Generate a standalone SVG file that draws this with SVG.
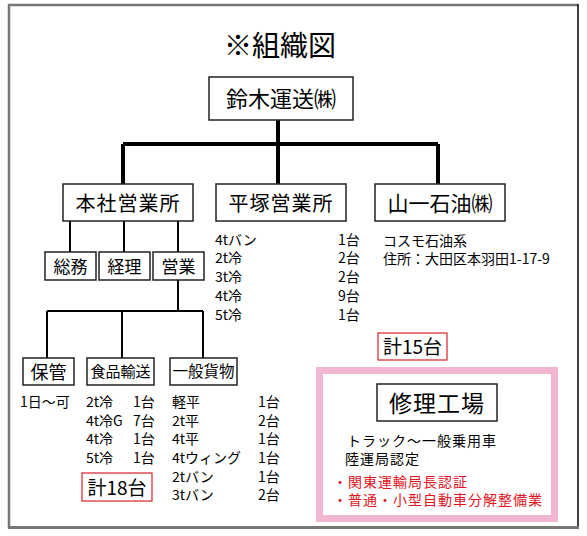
<svg xmlns="http://www.w3.org/2000/svg" width="587" height="536" viewBox="0 0 587 536">
<style>
text{font-family:"Noto Sans CJK JP","Noto Sans CJK SC",sans-serif;fill:#000}
.box{fill:#fff;stroke:#222;stroke-width:1.5}
.c{text-anchor:middle}
.s{font-size:14px}
.red{fill:#e3141e}
.tot{fill:#fff;stroke:#d9202a;stroke-width:1.2}
.thick{stroke:#000;stroke-width:4;fill:none}
.thin{stroke:#000;stroke-width:2;fill:none}
</style>
<rect x="0" y="0" width="587" height="536" fill="#fff"/>
<path d="M9 528 V5 H578" fill="none" stroke="#777" stroke-width="2.5"/>
<path d="M578 4 V527" fill="none" stroke="#000" stroke-width="1.5"/>
<path d="M8 527.5 H579" fill="none" stroke="#777" stroke-width="3"/>
<text x="280" y="56" class="c" font-size="28">※組織図</text>
<g id="connectors">
<path class="thick" d="M278 120 V144 M123 144 H438 M123 144 V184 M278 144 V184 M438 144 V184"/>
<path class="thin" d="M70 221 V252 M124 221 V252 M178 221 V252 M178 280 V311 M47 311 H203 M47 311 V358 M122 311 V358 M203 311 V358"/>
</g>
<g id="root"><rect class="box" x="209" y="77" width="144" height="43"/><text x="281" y="107" class="c" font-size="22">鈴木運送㈱</text></g>
<g id="honsha"><rect class="box" x="63" y="184" width="130" height="37"/><text x="128" y="211" class="c" font-size="20" letter-spacing="1">本社営業所</text></g>
<g id="hiratsuka"><rect class="box" x="216" y="184" width="130" height="37"/><text x="281" y="211" class="c" font-size="20" letter-spacing="1">平塚営業所</text></g>
<g id="yamaichi"><rect class="box" x="375" y="184" width="130" height="37"/><text x="440" y="211" class="c" font-size="21">山一石油㈱</text></g>
<g id="somu"><rect class="box" x="45" y="252" width="51" height="28"/><text x="70.5" y="273" class="c" font-size="17">総務</text></g>
<g id="keiri"><rect class="box" x="99" y="252" width="51" height="28"/><text x="124.5" y="273" class="c" font-size="17">経理</text></g>
<g id="eigyo"><rect class="box" x="153" y="252" width="51" height="28"/><text x="178.5" y="273" class="c" font-size="17">営業</text></g>
<g id="hokan"><rect class="box" x="23" y="358" width="51" height="27"/><text x="48.5" y="379" class="c" font-size="18">保管</text></g>
<g id="shokuhin"><rect class="box" x="87" y="358" width="67" height="27"/><text x="120.5" y="377" class="c" font-size="15">食品輸送</text></g>
<g id="ippan"><rect class="box" x="170" y="358" width="67" height="27"/><text x="203.5" y="377" class="c" font-size="15.5">一般貨物</text></g>
<g id="hiratsuka-list" class="s">
<text x="215" y="245">4tバン</text><text x="338" y="245">1台</text>
<text x="215" y="263">2t冷</text><text x="338" y="263">2台</text>
<text x="215" y="282">3t冷</text><text x="338" y="282">2台</text>
<text x="215" y="301">4t冷</text><text x="338" y="301">9台</text>
<text x="215" y="320">5t冷</text><text x="338" y="320">1台</text>
</g>
<g id="yamaichi-info" class="s">
<text x="383" y="246">コスモ石油系</text>
<text x="383" y="264">住所：大田区本羽田1-17-9</text>
</g>
<g id="total15"><rect class="tot" x="378" y="333" width="69" height="27"/><text x="412.5" y="354" class="c" font-size="19">計15台</text></g>
<g id="hokan-list" class="s"><text x="20" y="407">1日～可</text></g>
<g id="shokuhin-list" class="s">
<text x="86" y="407">2t冷</text><text x="133" y="407">1台</text>
<text x="86" y="426">4t冷G</text><text x="133" y="426">7台</text>
<text x="86" y="444">4t冷</text><text x="133" y="444">1台</text>
<text x="86" y="463">5t冷</text><text x="133" y="463">1台</text>
</g>
<g id="total18"><rect class="tot" x="82" y="473" width="70" height="28"/><text x="117" y="495" class="c" font-size="19">計18台</text></g>
<g id="ippan-list" class="s">
<text x="172" y="407">軽平</text><text x="258" y="407">1台</text>
<text x="172" y="426">2t平</text><text x="258" y="426">2台</text>
<text x="172" y="444">4t平</text><text x="258" y="444">1台</text>
<text x="172" y="463">4tウィング</text><text x="258" y="463">1台</text>
<text x="172" y="482">2tバン</text><text x="258" y="482">1台</text>
<text x="172" y="500">3tバン</text><text x="258" y="500">2台</text>
</g>
<g id="repair">
<rect x="319.5" y="370.5" width="235" height="148" fill="#fff" stroke="#f0b6d2" stroke-width="7"/>
<rect class="box" x="377" y="384" width="120" height="37"/>
<text x="437" y="412" class="c" font-size="23" letter-spacing="1">修理工場</text>
<text x="347" y="446" class="s" letter-spacing="1">トラック～一般乗用車</text>
<text x="345" y="464" class="s" letter-spacing="1">陸運局認定</text>
<text x="333" y="487" class="s red" letter-spacing="1">・関東運輸局長認証</text>
<text x="333" y="505" class="s red" letter-spacing="1">・普通・小型自動車分解整備業</text>
</g>
</svg>
